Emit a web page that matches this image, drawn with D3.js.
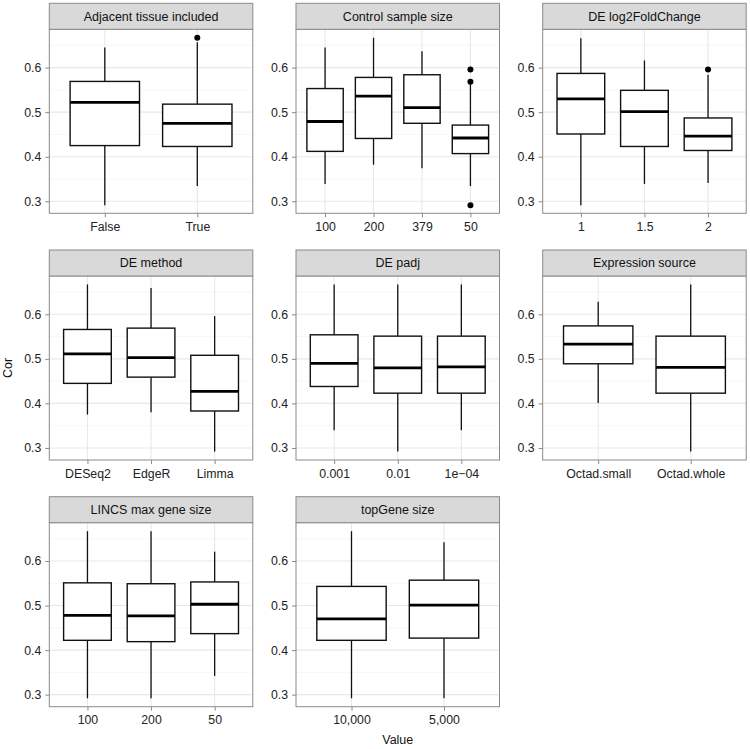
<!DOCTYPE html>
<html><head><meta charset="utf-8">
<script src="https://cdn.jsdelivr.net/npm/d3@7"></script>
<style>
html,body{margin:0;padding:0;background:#fff;}
svg{display:block;font-family:"Liberation Sans",Arial,Helvetica,sans-serif;}
</style></head>
<body>
<script>
// ---- data ----
const panelTitles = ["Adjacent tissue included","Control sample size","DE log2FoldChange",
  "DE method","DE padj","Expression source","LINCS max gene size","topGene size"];
const categories = [
  ["False","True"],
  ["100","200","379","50"],
  ["1","1.5","2"],
  ["DESeq2","EdgeR","Limma"],
  ["0.001","0.01","1e\u221204"],
  ["Octad.small","Octad.whole"],
  ["100","200","50"],
  ["10,000","5,000"]
];
const whiskerLow = [
  [0.291,0.334],
  [0.339,0.382,0.374,0.334],
  [0.291,0.339,0.341],
  [0.375,0.380,0.292],
  [0.340,0.292,0.340],
  [0.401,0.292],
  [0.292,0.292,0.342],
  [0.292,0.292]
];
const q1 = [
  [0.425,0.423],
  [0.412,0.441,0.475,0.407],
  [0.451,0.423,0.414],
  [0.445,0.459,0.383],
  [0.438,0.423,0.423],
  [0.489,0.423],
  [0.422,0.419,0.437],
  [0.422,0.427]
];
const median = [
  [0.522,0.475],
  [0.479,0.536,0.510,0.442],
  [0.530,0.501,0.446],
  [0.511,0.503,0.427],
  [0.490,0.480,0.482],
  [0.533,0.481],
  [0.478,0.477,0.503],
  [0.470,0.501]
];
const q3 = [
  [0.569,0.518],
  [0.553,0.578,0.584,0.471],
  [0.587,0.549,0.487],
  [0.566,0.569,0.508],
  [0.554,0.551,0.551],
  [0.574,0.551],
  [0.551,0.549,0.553],
  [0.543,0.557]
];
const whiskerHigh = [
  [0.645,0.657],
  [0.645,0.667,0.637,0.563],
  [0.666,0.616,0.584],
  [0.667,0.659,0.596],
  [0.667,0.667,0.667],
  [0.628,0.667],
  [0.667,0.667,0.621],
  [0.667,0.642]
];
const outliers = [
  [[],[0.667]],
  [[],[],[],[0.596,0.568,0.291]],
  [[],[],[0.596]],
  [[],[],[]],
  [[],[],[]],
  [[],[]],
  [[],[],[]],
  [[],[]]
];
const yTicks = [0.3,0.4,0.5,0.6];
const yMinor = [0.35,0.45,0.55,0.65];
const yDomain = [0.273,0.686];

// ---- layout ----
const W = 750, H = 749;
const left0 = 49.3, top0 = 3.3, pitch = 246.7, pw = 203.5, stripH = 26, ph = 184;
const svg = d3.select("body").append("svg").attr("width",W).attr("height",H);

panelTitles.forEach((title,i)=>{
  const col = i % 3, row = Math.floor(i/3);
  const px = left0 + col*pitch, sy = top0 + row*pitch, py = sy + stripH;
  const g = svg.append("g");
  const y = d3.scaleLinear().domain(yDomain).range([py+ph, py]);
  const x = d3.scalePoint().domain(categories[i]).range([px, px+pw]).padding(0.6);
  const bw = x.step()*0.75;

  // grid
  g.selectAll(".minor").data(yMinor).join("line")
    .attr("x1",px).attr("x2",px+pw).attr("y1",d=>y(d)).attr("y2",d=>y(d))
    .attr("stroke","#f2f2f2").attr("stroke-width",0.6);
  g.selectAll(".major").data(yTicks).join("line")
    .attr("x1",px).attr("x2",px+pw).attr("y1",d=>y(d)).attr("y2",d=>y(d))
    .attr("stroke","#e8e8e8").attr("stroke-width",1.1);
  g.selectAll(".vmajor").data(categories[i]).join("line")
    .attr("x1",d=>x(d)).attr("x2",d=>x(d)).attr("y1",py).attr("y2",py+ph)
    .attr("stroke","#e8e8e8").attr("stroke-width",1.1);

  // boxes
  const data = categories[i].map((c,k)=>({c, lo:whiskerLow[i][k], a:q1[i][k], m:median[i][k], b:q3[i][k], hi:whiskerHigh[i][k], out:outliers[i][k]}));
  const bg = g.selectAll(".box").data(data).join("g");
  bg.append("line").attr("x1",d=>x(d.c)).attr("x2",d=>x(d.c))
    .attr("y1",d=>y(d.hi)).attr("y2",d=>y(d.b)).attr("stroke","#111").attr("stroke-width",1.3);
  bg.append("line").attr("x1",d=>x(d.c)).attr("x2",d=>x(d.c))
    .attr("y1",d=>y(d.a)).attr("y2",d=>y(d.lo)).attr("stroke","#111").attr("stroke-width",1.3);
  bg.append("rect").attr("x",d=>x(d.c)-bw/2).attr("width",bw)
    .attr("y",d=>y(d.b)).attr("height",d=>y(d.a)-y(d.b))
    .attr("fill","#fff").attr("stroke","#111").attr("stroke-width",1.4);
  bg.append("line").attr("x1",d=>x(d.c)-bw/2).attr("x2",d=>x(d.c)+bw/2)
    .attr("y1",d=>y(d.m)).attr("y2",d=>y(d.m)).attr("stroke","#000").attr("stroke-width",2.8);
  bg.selectAll("circle").data(d=>d.out.map(v=>({c:d.c,v}))).join("circle")
    .attr("cx",d=>x(d.c)).attr("cy",d=>y(d.v)).attr("r",3).attr("fill","#000");

  // panel border
  g.append("rect").attr("x",px).attr("y",py).attr("width",pw).attr("height",ph)
    .attr("fill","none").attr("stroke","#8a8a8a").attr("stroke-width",1);
  // strip
  g.append("rect").attr("x",px).attr("y",sy).attr("width",pw).attr("height",stripH)
    .attr("fill","#d9d9d9").attr("stroke","#8a8a8a").attr("stroke-width",1);
  g.append("text").attr("x",px+pw/2).attr("y",sy+stripH/2+4.4).attr("text-anchor","middle")
    .attr("font-size",12.5).attr("fill","#111").text(title);

  // axes
  const ya = g.append("g").attr("transform",`translate(${px},0)`)
    .call(d3.axisLeft(y).tickValues(yTicks).tickFormat(d3.format(".1f")).tickSize(4).tickPadding(4));
  const xa = g.append("g").attr("transform",`translate(0,${py+ph})`)
    .call(d3.axisBottom(x).tickSize(4).tickPadding(5));
  [ya,xa].forEach(a=>{
    a.select(".domain").remove();
    a.selectAll(".tick line").attr("stroke","#8a8a8a");
    a.selectAll(".tick text").attr("font-size",12.3).attr("fill","#222")
      .attr("font-family",'"Liberation Sans",Arial,Helvetica,sans-serif');
  });
});

// axis titles
svg.append("text").attr("x",left0 + (2*pitch+pw)/2).attr("y",744).attr("text-anchor","middle")
  .attr("font-size",12.5).attr("fill","#111").text("Value");
svg.append("text").attr("transform",`translate(12,${top0+stripH+(2*pitch+ph)/2}) rotate(-90)`)
  .attr("text-anchor","middle").attr("font-size",12.5).attr("fill","#111").text("Cor");
</script>
</body></html>
